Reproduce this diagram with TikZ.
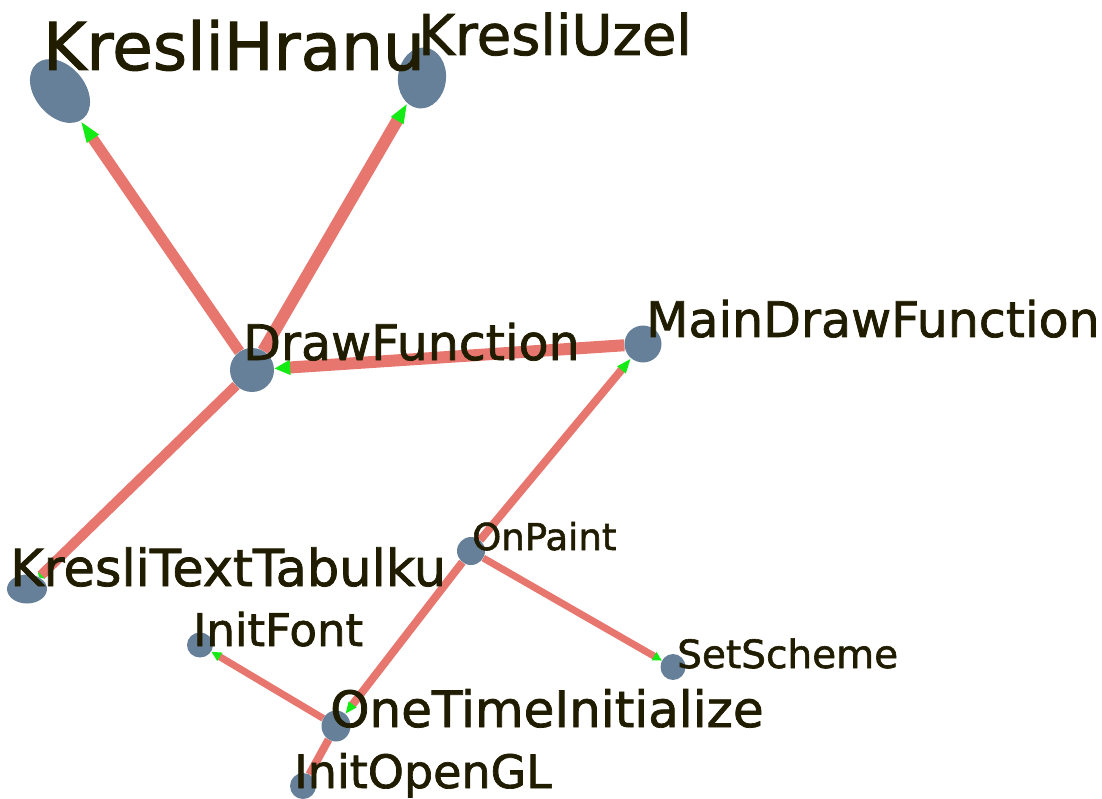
\documentclass[tikz,border=0pt]{standalone}
\usepackage{fontspec}
\setmainfont{DejaVu Sans}[FakeBold=1.5]
\usetikzlibrary{arrows.meta,shapes.geometric,backgrounds}

\definecolor{vertexfill}{RGB}{103,128,153}
\definecolor{edgesalmon}{RGB}{230,118,110}
\definecolor{tipgreen}{RGB}{20,235,20}
\definecolor{labelink}{RGB}{32,28,0}

\tikzset{
  vertex/.style={ellipse, fill=vertexfill, draw=none, inner sep=0pt},
  vlabel/.style={anchor=base west, inner sep=0pt, text=labelink},
  link/.style={draw=edgesalmon, line cap=butt},
  tip/.style 2 args={-{Triangle[length=#1, width=#2, color=tipgreen]}},
}

\newcommand{\fsz}[1]{\fontsize{#1}{#1}\selectfont}

\begin{document}
\begin{tikzpicture}[x=1pt, y=-1pt]
  \useasboundingbox (0,0) rectangle (1102,799);

  % vertices
  \node[vertex, minimum width=72pt, minimum height=50pt, rotate=-50] (kh)  at (60,91)   {};
  \node[vertex, minimum width=48pt, minimum height=61pt, rotate=-6]  (ku)  at (422,78)  {};
  \node[vertex, minimum width=44pt, minimum height=44pt]  (df)  at (252,370) {};
  \node[vertex, minimum width=37pt, minimum height=37pt]  (mdf) at (643,344) {};
  \node[vertex, minimum width=40pt, minimum height=29pt]  (ktt) at (27,589)  {};
  \node[vertex, minimum width=28pt, minimum height=28pt]  (op)  at (471,551) {};
  \node[vertex, minimum width=25pt, minimum height=26pt]  (ss)  at (673,667) {};
  \node[vertex, minimum width=26pt, minimum height=25pt]  (ifn) at (200,645) {};
  \node[vertex, minimum width=29pt, minimum height=31pt]  (oti) at (336,726) {};
  \node[vertex, minimum width=26pt, minimum height=26pt]  (iogl) at (303,786) {};

  % call edges, beneath the vertices
  \begin{scope}[on background layer]
    \draw[link, line width=11pt, tip={22pt}{13pt}] (df) -- (kh);
    \draw[link, line width=12pt, tip={20pt}{13pt}] (df) -- (ku);
    \draw[link, line width=12pt, tip={16pt}{14pt}] (mdf) -- (df);
    \draw[link, line width=10pt, tip={3pt}{10pt}]  (df) -- (ktt);
    \draw[link, line width=8pt,  tip={15pt}{10pt}] (op) -- (mdf);
    \draw[link, line width=8pt,  tip={12pt}{9pt}]  (op) -- (oti);
    \draw[link, line width=7pt,  tip={9pt}{9pt}]   (op) -- (ss);
    \draw[link, line width=7pt,  tip={10pt}{9pt}]  (oti) -- (ifn);
    \draw[link, line width=8pt]                    (oti) -- (iogl);
  \end{scope}

  % function names
  \node[vlabel, font=\fsz{66}] (lkh)   at (43,70)   {KresliHranu};
  \node[vlabel, font=\fsz{56}] (lku)   at (418,55)  {KresliUzel};
  \node[vlabel, font=\fsz{49}] (ldf)   at (243,360) {DrawFunction};
  \node[vlabel, font=\fsz{49}] (lmdf)  at (646,337) {MainDrawFunction};
  \node[vlabel, font=\fsz{51}] (lktt)  at (10,586)  {KresliTextTabulku};
  \node[vlabel, font=\fsz{37}] (lop)   at (472,550) {OnPaint};
  \node[vlabel, font=\fsz{39}] (lss)   at (677,668) {SetScheme};
  \node[vlabel, font=\fsz{45}] (lifn)  at (193,646) {InitFont};
  \node[vlabel, font=\fsz{50}] (loti)  at (330,727) {OneTimeInitialize};
  \node[vlabel, font=\fsz{46}] (liogl) at (294,788) {InitOpenGL};
\end{tikzpicture}
\end{document}
